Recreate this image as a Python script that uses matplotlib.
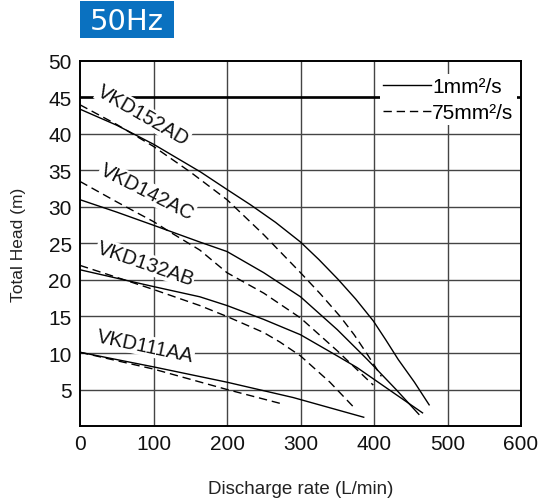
import matplotlib
matplotlib.use("Agg")
import matplotlib.pyplot as plt
from matplotlib.patches import Rectangle

plt.rcParams["font.family"] = ["Liberation Sans", "DejaVu Sans"]

# ====== data ======
q_152_1  = [0, 50, 100, 164, 200, 232, 266, 300, 325, 351, 375, 399, 416, 433, 455, 475]
h_152_1  = [43.4, 41.2, 38.6, 34.8, 32.4, 30.3, 27.9, 25.2, 22.8, 20.1, 17.4, 14.4, 11.8, 9.1, 6.0, 2.9]
q_152_75 = [0, 50, 100, 150, 200, 250, 300, 327, 354, 373, 391, 410]
h_152_75 = [44.0, 41.3, 38.3, 34.8, 31.0, 26.2, 21.0, 18.1, 15.0, 12.5, 9.8, 6.8]

q_142_1  = [0, 50, 100, 163, 200, 250, 300, 350, 391, 430, 461]
h_142_1  = [31.0, 29.3, 27.5, 25.2, 23.9, 21.0, 17.7, 13.2, 9.1, 5.0, 1.6]
q_142_75 = [0, 50, 100, 122, 163, 200, 250, 300, 350, 399]
h_142_75 = [33.5, 30.7, 28.0, 26.6, 24.1, 21.0, 18.2, 14.8, 10.3, 5.6]

q_132_1  = [0, 100, 163, 200, 250, 300, 350, 377, 420, 466]
h_132_1  = [21.4, 19.1, 17.7, 16.5, 14.6, 12.5, 9.6, 8.0, 5.0, 1.8]
q_132_75 = [0, 64, 100, 163, 200, 250, 272, 300, 340, 375]
h_132_75 = [22.0, 19.9, 18.7, 16.5, 15.0, 12.8, 11.5, 9.6, 6.0, 2.3]

q_111_1  = [0, 100, 200, 290, 386]
h_111_1  = [10.1, 8.1, 6.0, 3.9, 1.2]
q_111_75 = [0, 100, 200, 276]
h_111_75 = [10.1, 7.8, 5.0, 3.0]

models    = ["VKD152AD", "VKD142AC", "VKD132AB", "VKD111AA"]
label_x   = [86, 91, 89, 89]
label_y   = [42.6, 32.1, 22.3, 11.0]
label_rot = [-30, -27, -19, -12]

x_ticks = [0, 100, 200, 300, 400, 500, 600]
y_ticks = [5, 10, 15, 20, 25, 30, 35, 40, 45, 50]
max_head = 45

# ====== plot ======
fig = plt.figure(figsize=(5.42, 5.02), dpi=100)
ax = fig.add_axes([0.1476, 0.1494, 0.8137, 0.7271])

grid_c = "#444444"
for xv in x_ticks[1:-1]:
    ax.axvline(xv, color=grid_c, lw=1.0, zorder=1)
for yv in y_ticks[:-1]:
    ax.axhline(yv, color=grid_c, lw=1.0, zorder=1)
ax.axhline(max_head, color="black", lw=1.9, zorder=1)

dash = (0, (6, 3.5))
solid_sets = [(q_152_1, h_152_1), (q_142_1, h_142_1), (q_132_1, h_132_1), (q_111_1, h_111_1)]
dash_sets = [(q_152_75, h_152_75), (q_142_75, h_142_75), (q_132_75, h_132_75), (q_111_75, h_111_75)]
for i, ((qs, hs), (qd, hd)) in enumerate(zip(solid_sets, dash_sets)):
    ax.plot(qs, hs, color="black", lw=1.0, zorder=3,
            label="1mm²/s" if i == 0 else None)
    ax.plot(qd, hd, color="black", lw=1.0, ls=dash, zorder=3,
            label="75mm²/s" if i == 0 else None)

for name, lx, ly, rot in zip(models, label_x, label_y, label_rot):
    ax.text(lx, ly, name, rotation=rot, ha="center", va="center", fontsize=14.5,
            color="#111111", zorder=2,
            bbox=dict(fc="white", ec="none", pad=0.6))

leg = ax.legend(loc="upper right", bbox_to_anchor=(0.99, 0.965), borderaxespad=0,
                frameon=True, fancybox=False, fontsize=15, handlelength=2.3,
                handletextpad=0.05, labelspacing=0.35, borderpad=0.15)
leg.get_frame().set_facecolor("white")
leg.get_frame().set_edgecolor("none")
leg.get_frame().set_alpha(1)
leg.set_zorder(4)

ax.set_xlim(0, 600)
ax.set_ylim(0, 50)
ax.set_xticks(x_ticks)
ax.set_yticks(y_ticks)
ax.tick_params(length=0, labelsize=15, pad=6, colors="#111111")
for s in ax.spines.values():
    s.set_linewidth(1.4)
    s.set_color("black")

ax.set_xlabel("Discharge rate (L/min)", fontsize=13.5, color="#222222", labelpad=19)
ax.set_ylabel("Total Head (m)", fontsize=12.5, color="#222222", labelpad=16)

# "50Hz" badge
fig.patches.append(Rectangle((0.1476, 0.922), 0.1734, 0.074, transform=fig.transFigure,
                             facecolor="#0a71c0", edgecolor="none"))
fig.text(0.2343, 0.957, "50Hz", color="white", fontsize=21, ha="center", va="center",
         family="DejaVu Sans")

fig.savefig("out.png", dpi=100)
plt.close(fig)
